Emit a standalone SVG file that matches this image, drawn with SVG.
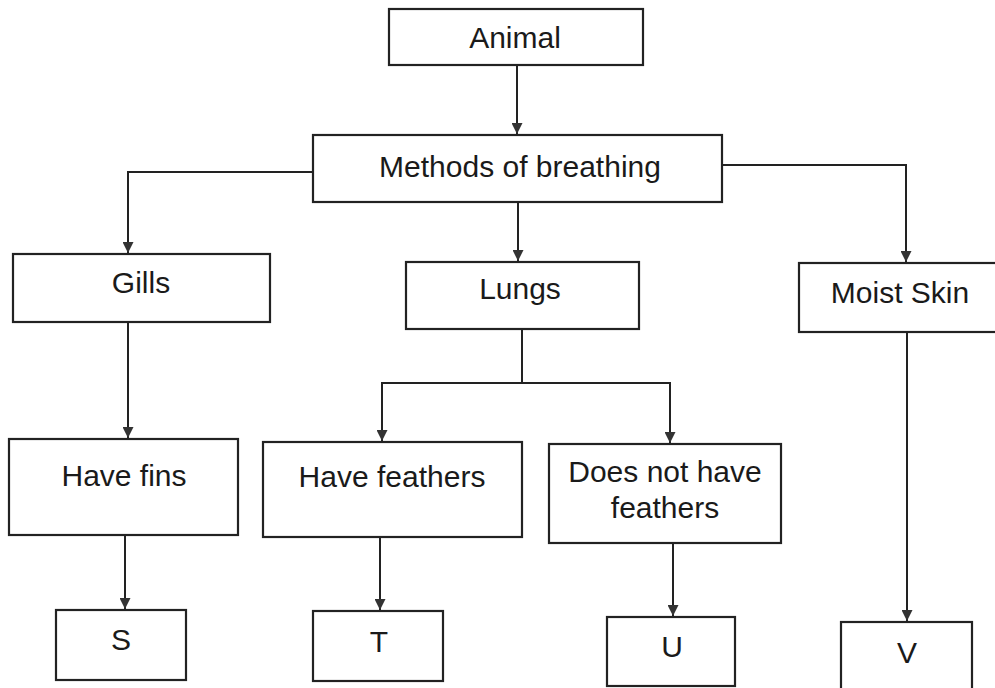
<svg xmlns="http://www.w3.org/2000/svg" width="995" height="688" viewBox="0 0 995 688">
<defs>
<style>
.box{fill:#fff;stroke:#222;stroke-width:2.2}
.lbl{font-family:"Liberation Sans",Arial,sans-serif;font-size:30px;fill:#1a1a1a;text-anchor:middle}
.con{fill:none;stroke:#222;stroke-width:2}
</style>
<marker id="arr" viewBox="0 0 10 10" refX="10" refY="5" markerWidth="11" markerHeight="11" markerUnits="userSpaceOnUse" orient="auto">
<path d="M0,0 L10,5 L0,10 Z" fill="#333"/>
</marker>
</defs>
<rect width="995" height="688" fill="#fff"/>
<g id="connectors">
<path class="con" d="M517,65 V134" marker-end="url(#arr)"/>
<path class="con" d="M313,172 H128 V253" marker-end="url(#arr)"/>
<path class="con" d="M518,202 V261" marker-end="url(#arr)"/>
<path class="con" d="M722,165 H906 V262" marker-end="url(#arr)"/>
<path class="con" d="M128,322 V438" marker-end="url(#arr)"/>
<path class="con" d="M522,329 V383 H382 V441" marker-end="url(#arr)"/>
<path class="con" d="M522,383 H670 V443" marker-end="url(#arr)"/>
<path class="con" d="M125,535 V609" marker-end="url(#arr)"/>
<path class="con" d="M380,537 V610" marker-end="url(#arr)"/>
<path class="con" d="M673,543 V616" marker-end="url(#arr)"/>
<path class="con" d="M907,332 V621" marker-end="url(#arr)"/>
</g>
<g id="animal"><rect class="box" x="389" y="9" width="254" height="56"/><text class="lbl" x="515" y="48">Animal</text></g>
<g id="methods"><rect class="box" x="313" y="135" width="409" height="67"/><text class="lbl" x="520" y="177">Methods of breathing</text></g>
<g id="gills"><rect class="box" x="13" y="254" width="257" height="68"/><text class="lbl" x="141" y="293">Gills</text></g>
<g id="lungs"><rect class="box" x="406" y="262" width="233" height="67"/><text class="lbl" x="520" y="299">Lungs</text></g>
<g id="moist"><rect class="box" x="799" y="263" width="200" height="69"/><text class="lbl" x="900" y="303">Moist Skin</text></g>
<g id="fins"><rect class="box" x="9" y="439" width="229" height="96"/><text class="lbl" x="124" y="486">Have fins</text></g>
<g id="feathers"><rect class="box" x="263" y="442" width="259" height="95"/><text class="lbl" x="392" y="487">Have feathers</text></g>
<g id="nofeathers"><rect class="box" x="549" y="444" width="232" height="99"/><text class="lbl" x="665" y="482">Does not have</text><text class="lbl" x="665" y="518">feathers</text></g>
<g id="s"><rect class="box" x="56" y="610" width="130" height="70"/><text class="lbl" x="121" y="650">S</text></g>
<g id="t"><rect class="box" x="313" y="611" width="130" height="70"/><text class="lbl" x="379" y="652">T</text></g>
<g id="u"><rect class="box" x="607" y="617" width="128" height="69"/><text class="lbl" x="672" y="657">U</text></g>
<g id="v"><rect class="box" x="841" y="622" width="131" height="80"/><text class="lbl" x="907" y="663">V</text></g>
</svg>
